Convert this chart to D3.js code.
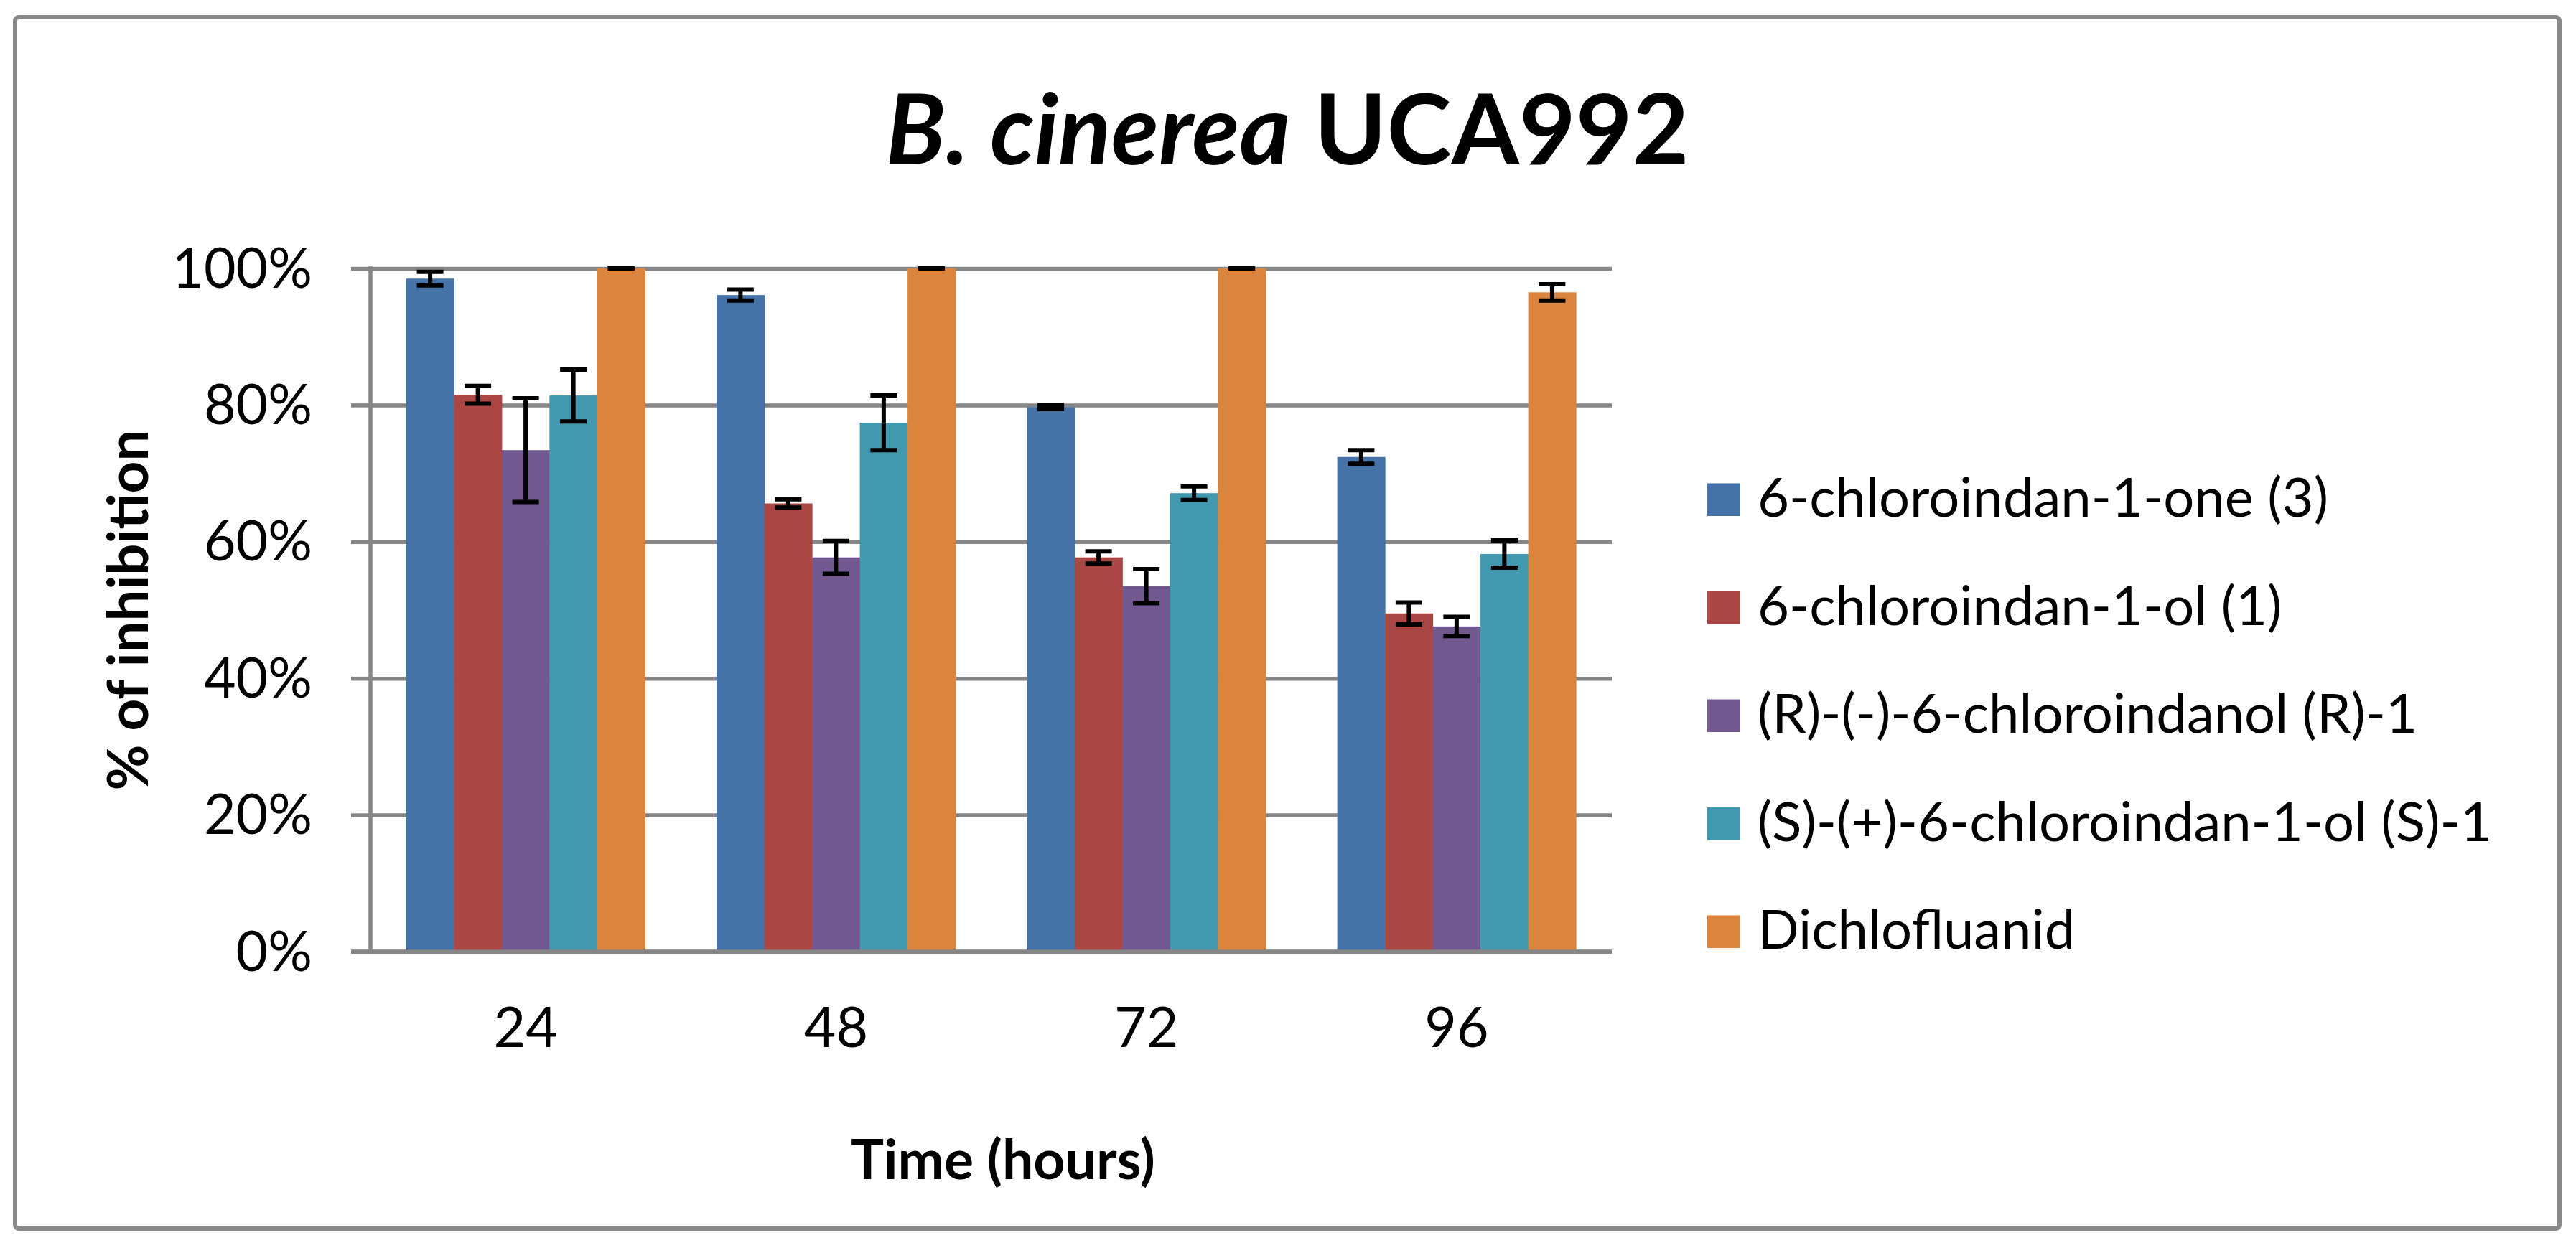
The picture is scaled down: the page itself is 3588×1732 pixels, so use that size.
<!DOCTYPE html>
<html>
<head>
<meta charset="utf-8">
<script src="https://cdn.jsdelivr.net/npm/d3@7"></script>
<style>
  body { margin: 0; background: #fff; }
  text { font-family: Lato, "Open Sans", sans-serif; fill: #000; }
</style>
</head>
<body>
<div id="chart"></div>
<script>
// data
var hours = ["24", "48", "72", "96"];
var seriesNames = [
  "6-chloroindan-1-one (3)",
  "6-chloroindan-1-ol (1)",
  "(R)-(-)-6-chloroindanol (R)-1",
  "(S)-(+)-6-chloroindan-1-ol (S)-1",
  "Dichlofluanid"
];
var chloroindanone = [98.5, 96.1, 79.7, 72.4];
var chloroindanol = [81.5, 65.6, 57.7, 49.5];
var rIndanol = [73.4, 57.7, 53.5, 47.6];
var sIndanol = [81.4, 77.4, 67.1, 58.2];
var dichlofluanid = [100, 100, 100, 96.5];

var errChloroindanone = [1.0, 0.8, 0.3, 1.0];
var errChloroindanol = [1.3, 0.6, 0.9, 1.6];
var errRIndanol = [7.6, 2.4, 2.5, 1.4];
var errSIndanol = [3.8, 4.0, 1.0, 2.0];
var errDichlofluanid = [0, 0, 0, 1.2];

var yTicks = [0, 20, 40, 60, 80, 100];
var colors = ["#4572A7", "#AA4643", "#71588F", "#4198AF", "#DB843D"];

var allValues = [chloroindanone, chloroindanol, rIndanol, sIndanol, dichlofluanid];
var allErrors = [errChloroindanone, errChloroindanol, errRIndanol, errSIndanol, errDichlofluanid];

// ****************************************************
// svg area
var svgWidth = 3588;
var svgHeight = 1732;
var plot = { left: 516, right: 2245, top: 374, bottom: 1326 };
var gridColor = "#868686";

var svg = d3.select("#chart")
  .append("svg")
  .attr("width", svgWidth)
  .attr("height", svgHeight);

// chart border
svg.append("rect")
  .attr("x", 21).attr("y", 24)
  .attr("width", 3544).attr("height", 1688)
  .attr("rx", 5)
  .attr("fill", "#fff")
  .attr("stroke", "#898989")
  .attr("stroke-width", 6);

// ****************************************************
// scales
var xScale = d3.scaleBand()
  .domain(hours)
  .range([plot.left, plot.right]);

// gap width 150% of a bar -> 1.5 / 6.5 of the band
var gapFrac = 1.5 / 6.5;
var xInner = d3.scaleBand()
  .domain(d3.range(seriesNames.length))
  .range([xScale.bandwidth() * gapFrac / 2, xScale.bandwidth() * (1 - gapFrac / 2)]);

var yScale = d3.scaleLinear()
  .domain([0, 100])
  .range([plot.bottom, plot.top]);

// ****************************************************
// gridlines
var grid = svg.append("g")
  .attr("transform", "translate(" + plot.left + ",0)")
  .call(d3.axisLeft(yScale).tickValues(yTicks).tickSize(-(plot.right - plot.left)).tickFormat(""));
grid.select(".domain").remove();
grid.selectAll("line").attr("stroke", gridColor).attr("stroke-width", 5.5);

// y axis with labels
var yAxis = svg.append("g")
  .attr("transform", "translate(" + plot.left + ",0)")
  .call(d3.axisLeft(yScale)
    .tickValues(yTicks)
    .tickSize(27)
    .tickPadding(54)
    .tickFormat(function(d) { return d + "%"; }));
yAxis.select(".domain").remove();
yAxis.selectAll("line").attr("stroke", gridColor).attr("stroke-width", 5.5);
yAxis.selectAll("text")
  .attr("font-family", "Lato, sans-serif")
  .attr("font-size", 77)
  .attr("dy", "0.34em");

// vertical axis line
svg.append("line")
  .attr("x1", plot.left).attr("x2", plot.left)
  .attr("y1", yScale(100) - 2.75).attr("y2", yScale(0) + 2.75)
  .attr("stroke", gridColor)
  .attr("stroke-width", 5.5);

// ****************************************************
// bars
var groups = svg.selectAll("g.hour")
  .data(hours)
  .enter()
  .append("g")
  .attr("class", "hour")
  .attr("transform", function(d) { return "translate(" + xScale(d) + ",0)"; });

groups.selectAll("rect")
  .data(function(d, i) {
    return allValues.map(function(vals, s) { return { s: s, v: vals[i], e: allErrors[s][i] }; });
  })
  .enter()
  .append("rect")
  .attr("x", function(d) { return xInner(d.s); })
  .attr("width", xInner.bandwidth() + 0.5)
  .attr("y", function(d) { return yScale(d.v); })
  .attr("height", function(d) { return yScale(0) - yScale(d.v); })
  .attr("fill", function(d) { return colors[d.s]; });

// bottom axis line drawn over bars
svg.append("line")
  .attr("x1", plot.left - 27).attr("x2", plot.right)
  .attr("y1", yScale(0)).attr("y2", yScale(0))
  .attr("stroke", gridColor)
  .attr("stroke-width", 5.5);

// error bars
var capHalf = 18.5;
var errs = groups.selectAll("g.err")
  .data(function(d, i) {
    return allValues.map(function(vals, s) { return { s: s, v: vals[i], e: allErrors[s][i] }; });
  })
  .enter()
  .append("g")
  .attr("class", "err")
  .attr("stroke", "#000")
  .attr("stroke-width", 6);

errs.append("line")
  .attr("x1", function(d) { return xInner(d.s) + xInner.bandwidth() / 2; })
  .attr("x2", function(d) { return xInner(d.s) + xInner.bandwidth() / 2; })
  .attr("y1", function(d) { return yScale(Math.min(100, d.v + d.e)); })
  .attr("y2", function(d) { return yScale(d.v - d.e); });

errs.append("line")
  .attr("x1", function(d) { return xInner(d.s) + xInner.bandwidth() / 2 - capHalf; })
  .attr("x2", function(d) { return xInner(d.s) + xInner.bandwidth() / 2 + capHalf; })
  .attr("y1", function(d) { return yScale(Math.min(100, d.v + d.e)); })
  .attr("y2", function(d) { return yScale(Math.min(100, d.v + d.e)); });

errs.append("line")
  .attr("x1", function(d) { return xInner(d.s) + xInner.bandwidth() / 2 - capHalf; })
  .attr("x2", function(d) { return xInner(d.s) + xInner.bandwidth() / 2 + capHalf; })
  .attr("y1", function(d) { return yScale(d.v - d.e); })
  .attr("y2", function(d) { return yScale(d.v - d.e); });

// ****************************************************
// x tick labels
var xAxis = svg.append("g")
  .attr("transform", "translate(0," + yScale(0) + ")")
  .call(d3.axisBottom(xScale).tickSize(0).tickPadding(80));
xAxis.select(".domain").remove();
xAxis.selectAll("text")
  .attr("font-family", "Lato, sans-serif")
  .attr("font-size", 77)
  .attr("dy", 0)
  .attr("y", 133);

// axis titles
svg.append("text")
  .attr("x", 1397)
  .attr("y", 1643)
  .attr("text-anchor", "middle")
  .attr("font-size", 77)
  .attr("font-weight", "bold")
  .text("Time (hours)");

svg.append("text")
  .attr("transform", "translate(206," + (plot.top + plot.bottom) / 2 + ") rotate(-90)")
  .attr("text-anchor", "middle")
  .attr("font-size", 78)
  .attr("font-weight", "bold")
  .text("% of inhibition");

// chart title
var title = svg.append("text")
  .attr("x", 1793)
  .attr("y", 229)
  .attr("text-anchor", "middle")
  .attr("font-size", 136)
  .attr("font-weight", "bold");
title.append("tspan").attr("font-style", "italic").text("B. cinerea");
title.append("tspan").text(" UCA992");

// ****************************************************
// legend
var legend = svg.selectAll("g.legend")
  .data(seriesNames)
  .enter()
  .append("g")
  .attr("class", "legend")
  .attr("transform", function(d, i) { return "translate(2378," + (673.5 + i * 150.5) + ")"; });

legend.append("rect")
  .attr("width", 46)
  .attr("height", 45.5)
  .attr("fill", function(d, i) { return colors[i]; });

legend.append("text")
  .attr("x", 70)
  .attr("y", 46.5)
  .attr("font-size", 76)
  .text(function(d) { return d; });
</script>
</body>
</html>
